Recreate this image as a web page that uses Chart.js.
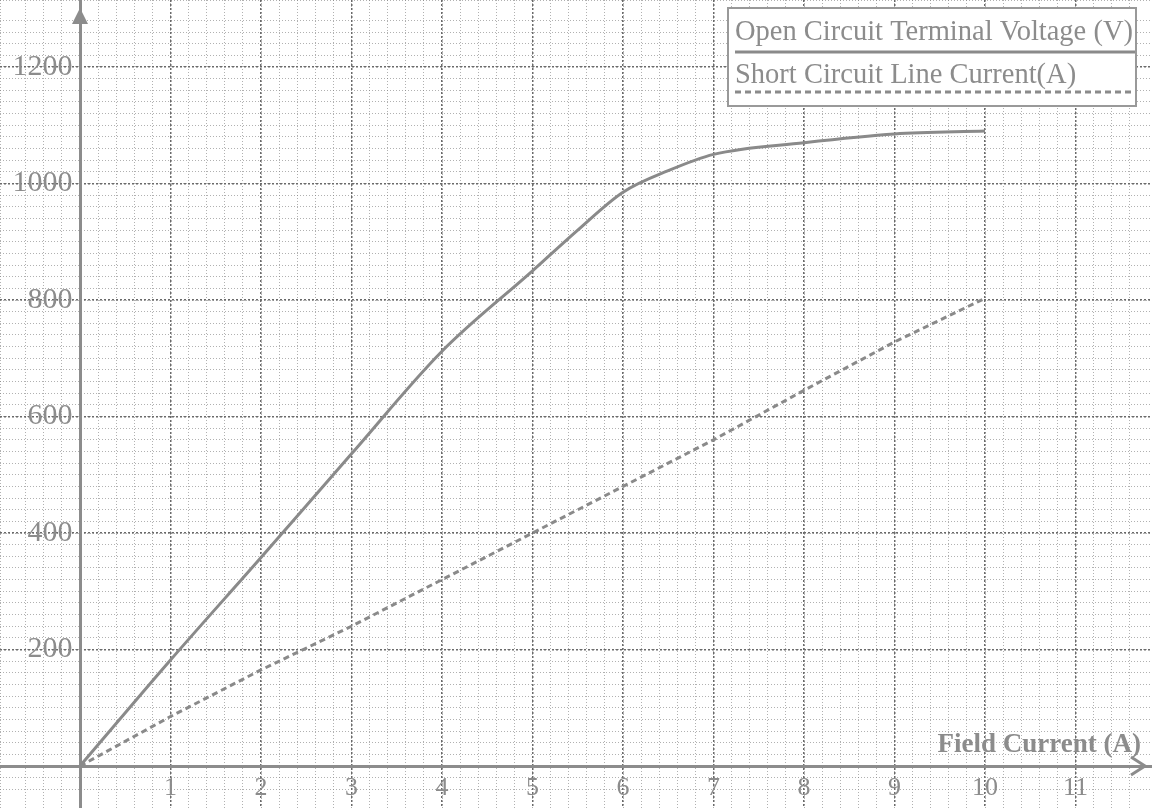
<html>
  <head>
    <script src="https://cdn.jsdelivr.net/npm/chart.js@4.4.0/dist/chart.umd.min.js"></script>
    <style>
      body { margin: 0; background: #fff; }
    </style>
  </head>
  <body>
    <canvas id="myChart" width="1152" height="808"></canvas>

    <script>
      // open circuit test (solid curve)
      var ocField = [0, 1, 2, 3, 4, 5, 5.5, 6, 6.5, 7, 8, 9, 10]
      var ocVoltage = [0, 182, 358, 536, 712, 850, 920, 985, 1022, 1050, 1070, 1085, 1090]

      // short circuit test (dashed line)
      var scField = [0, 1, 2, 3, 4, 5, 6, 7, 8, 9, 10]
      var scCurrent = [0, 85, 165, 240, 320, 400, 480, 560, 645, 728, 803]

      var xTicks = [1, 2, 3, 4, 5, 6, 7, 8, 9, 10, 11]
      var yTicks = [200, 400, 600, 800, 1000, 1200]

      var xTitle = 'Field Current (A)'
      var ink = '#8c8c8c'
      var serif = 'Liberation Serif'

      function points(xs, ys) {
        return xs.map(function (x, i) { return { x: x, y: ys[i] } })
      }

      // keep the tick labels from shrinking the plot area
      function noPadding(scale) {
        scale.paddingTop = 0
        scale.paddingBottom = 0
        scale.paddingLeft = 0
        scale.paddingRight = 0
      }

      var extras = {
        id: 'extras',
        afterDraw: function (chart) {
          var ctx = chart.ctx
          var x0 = chart.scales.x.getPixelForValue(0)
          var y0 = chart.scales.y.getPixelForValue(0)
          ctx.save()

          // axis arrows
          ctx.fillStyle = ink
          ctx.beginPath()
          ctx.moveTo(x0, 8)
          ctx.lineTo(x0 - 8, 24)
          ctx.lineTo(x0 + 8, 24)
          ctx.closePath()
          ctx.fill()
          ctx.strokeStyle = ink
          ctx.lineWidth = 3
          ctx.beginPath()
          ctx.moveTo(1131, y0 - 9)
          ctx.lineTo(1145, y0)
          ctx.lineTo(1131, y0 + 9)
          ctx.stroke()

          // axis title
          ctx.fillStyle = ink
          ctx.font = 'bold 27px "' + serif + '"'
          ctx.textAlign = 'right'
          ctx.textBaseline = 'alphabetic'
          ctx.fillText(xTitle, 1141, 752)

          // legend box, text with the line sample under it
          ctx.fillStyle = '#fff'
          ctx.fillRect(728, 8, 408, 98)
          ctx.lineWidth = 2
          ctx.strokeStyle = '#999'
          ctx.setLineDash([])
          ctx.strokeRect(728, 8, 408, 98)
          ctx.textAlign = 'left'
          ctx.font = '28.5px "' + serif + '"'
          var rows = [[40, 52], [83, 92]]
          chart.data.datasets.forEach(function (ds, i) {
            ctx.fillStyle = ink
            ctx.fillText(ds.label, 735, rows[i][0])
            ctx.strokeStyle = ds.borderColor
            ctx.lineWidth = ds.borderWidth
            ctx.setLineDash(ds.borderDash || [])
            ctx.beginPath()
            ctx.moveTo(735, rows[i][1])
            ctx.lineTo(1135, rows[i][1])
            ctx.stroke()
          })
          ctx.restore()
        }
      }

      var ctx = document.getElementById('myChart').getContext('2d');
      var chart = new Chart(ctx, {
        type: 'line',
        data: {
          datasets: [
            {
              label: 'Open Circuit Terminal Voltage (V)',
              data: points(ocField, ocVoltage),
              borderColor: '#8a8a8a',
              borderWidth: 3,
              pointRadius: 0,
              cubicInterpolationMode: 'monotone'
            },
            {
              label: 'Short Circuit Line Current(A)',
              data: points(scField, scCurrent),
              borderColor: '#8a8a8a',
              borderWidth: 3,
              borderDash: [6, 4],
              pointRadius: 0
            }
          ]
        },
        options: {
          responsive: false,
          animation: false,
          layout: { padding: 0 },
          plugins: { legend: { display: false }, tooltip: { enabled: false } },
          scales: {
            xMinor: {
              type: 'linear', min: -0.884, max: 11.845, position: { y: 0 },
              afterFit: noPadding,
              ticks: { display: false, stepSize: 0.2 },
              grid: { color: 'rgba(125,125,125,0.6)', lineWidth: 1, drawTicks: false },
              border: { display: false, dash: [1, 2] }
            },
            yMinor: {
              type: 'linear', min: -72, max: 1315, position: { x: 0 },
              afterFit: noPadding,
              ticks: { display: false, stepSize: 20 },
              grid: { color: 'rgba(125,125,125,0.6)', lineWidth: 1, drawTicks: false },
              border: { display: false, dash: [1, 2] }
            },
            x: {
              type: 'linear', min: -0.884, max: 11.845, position: { y: 0 },
              afterFit: noPadding,
              afterBuildTicks: function (axis) { axis.ticks = xTicks.map(function (v) { return { value: v } }) },
              ticks: { color: ink, font: { family: serif, size: 26 }, padding: 7, maxRotation: 0 },
              grid: { color: '#6a6a6a', lineWidth: 1.5, drawTicks: false },
              border: { display: true, color: ink, width: 3, dash: [2, 2] }
            },
            y: {
              type: 'linear', min: -72, max: 1315, position: { x: 0 },
              afterFit: noPadding,
              afterBuildTicks: function (axis) { axis.ticks = yTicks.map(function (v) { return { value: v } }) },
              ticks: {
                color: ink, font: { family: serif, size: 30 },
                callback: function (v) { return v + ' ' }
              },
              grid: { color: '#6a6a6a', lineWidth: 1.5, drawTicks: false },
              border: { display: true, color: ink, width: 3, dash: [2, 2] }
            }
          }
        },
        plugins: [extras]
      });
    </script>
  </body>
</html>
